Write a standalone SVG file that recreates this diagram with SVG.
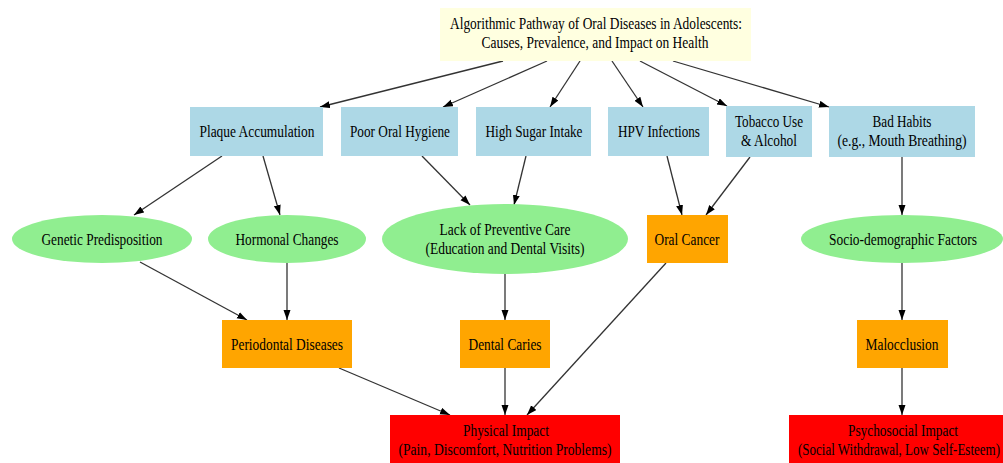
<svg xmlns="http://www.w3.org/2000/svg" width="1003" height="463" viewBox="0 0 1003 463">
<style>
text{font-family:"Liberation Serif","Times New Roman",serif;font-size:16px;fill:#000;text-anchor:middle}
.t{fill:#ffffe0}
.b{fill:#add8e6}
.g{fill:#90ee90}
.o{fill:#ffa500}
.r{fill:#ff0000}
.e line{stroke:#333;stroke-width:1.3;marker-end:url(#ah)}
</style>
<defs>
<marker id="ah" markerUnits="userSpaceOnUse" markerWidth="11" markerHeight="8" refX="10" refY="3.5" orient="auto">
<path d="M0,0 L10,3.5 L0,7 z" fill="#000"/>
</marker>
</defs>
<rect width="1003" height="463" fill="#fff"/>
<g class="e" id="connectors">
<line x1="503" y1="61" x2="320" y2="107"/>
<line x1="547" y1="61" x2="443" y2="107"/>
<line x1="580" y1="61" x2="550" y2="107"/>
<line x1="612" y1="61" x2="643" y2="107"/>
<line x1="640" y1="61" x2="727" y2="106"/>
<line x1="673" y1="61" x2="829" y2="107"/>
<line x1="222" y1="156" x2="134" y2="215"/>
<line x1="263" y1="156" x2="280" y2="215"/>
<line x1="422" y1="156" x2="470" y2="205"/>
<line x1="526" y1="156" x2="514" y2="205"/>
<line x1="667" y1="156" x2="682" y2="215"/>
<line x1="750" y1="157" x2="706" y2="215"/>
<line x1="902" y1="157" x2="902" y2="215"/>
<line x1="140" y1="262" x2="247" y2="320"/>
<line x1="287" y1="263" x2="287" y2="320"/>
<line x1="505" y1="274" x2="505" y2="320"/>
<line x1="666" y1="263" x2="527" y2="415"/>
<line x1="902" y1="263" x2="902" y2="320"/>
<line x1="339" y1="368" x2="450" y2="415"/>
<line x1="505" y1="368" x2="505" y2="415"/>
<line x1="902" y1="368" x2="902" y2="415"/>
</g>
<g id="title"><rect class="t" x="440" y="8" width="311" height="53"/>
<text x="596" y="29" textLength="292" lengthAdjust="spacingAndGlyphs">Algorithmic Pathway of Oral Diseases in Adolescents:</text>
<text x="595" y="48" textLength="227" lengthAdjust="spacingAndGlyphs">Causes, Prevalence, and Impact on Health</text></g>
<g id="plaque"><rect class="b" x="190" y="107" width="133" height="49"/>
<text x="257" y="137" textLength="115" lengthAdjust="spacingAndGlyphs">Plaque Accumulation</text></g>
<g id="hygiene"><rect class="b" x="341" y="107" width="117" height="49"/>
<text x="400" y="137" textLength="100" lengthAdjust="spacingAndGlyphs">Poor Oral Hygiene</text></g>
<g id="sugar"><rect class="b" x="476" y="107" width="115" height="49"/>
<text x="534" y="137" textLength="97" lengthAdjust="spacingAndGlyphs">High Sugar Intake</text></g>
<g id="hpv"><rect class="b" x="608" y="107" width="101" height="49"/>
<text x="659" y="137" textLength="82" lengthAdjust="spacingAndGlyphs">HPV Infections</text></g>
<g id="tobacco"><rect class="b" x="726" y="106" width="86" height="51"/>
<text x="769" y="127" textLength="68" lengthAdjust="spacingAndGlyphs">Tobacco Use</text>
<text x="769" y="146" textLength="56" lengthAdjust="spacingAndGlyphs">&amp; Alcohol</text></g>
<g id="habits"><rect class="b" x="829" y="106" width="146" height="51"/>
<text x="902" y="127" textLength="59" lengthAdjust="spacingAndGlyphs">Bad Habits</text>
<text x="902" y="146" textLength="129" lengthAdjust="spacingAndGlyphs">(e.g., Mouth Breathing)</text></g>
<g id="genetic"><ellipse class="g" cx="102" cy="239" rx="90" ry="24"/>
<text x="102" y="245" textLength="121" lengthAdjust="spacingAndGlyphs">Genetic Predisposition</text></g>
<g id="hormonal"><ellipse class="g" cx="287" cy="239" rx="79" ry="24"/>
<text x="287" y="245" textLength="103" lengthAdjust="spacingAndGlyphs">Hormonal Changes</text></g>
<g id="preventive"><ellipse class="g" cx="505" cy="239" rx="123" ry="35"/>
<text x="505" y="235" textLength="131" lengthAdjust="spacingAndGlyphs">Lack of Preventive Care</text>
<text x="505" y="254" textLength="159" lengthAdjust="spacingAndGlyphs">(Education and Dental Visits)</text></g>
<g id="oralcancer"><rect class="o" x="647" y="215" width="81" height="48"/>
<text x="687" y="245" textLength="65" lengthAdjust="spacingAndGlyphs">Oral Cancer</text></g>
<g id="socio"><ellipse class="g" cx="902" cy="239" rx="101" ry="24"/>
<text x="903" y="245" textLength="148" lengthAdjust="spacingAndGlyphs">Socio-demographic Factors</text></g>
<g id="periodontal"><rect class="o" x="222" y="320" width="130" height="48"/>
<text x="287" y="350" textLength="112" lengthAdjust="spacingAndGlyphs">Periodontal Diseases</text></g>
<g id="caries"><rect class="o" x="460" y="320" width="90" height="48"/>
<text x="505" y="350" textLength="73" lengthAdjust="spacingAndGlyphs">Dental Caries</text></g>
<g id="malocclusion"><rect class="o" x="857" y="320" width="91" height="48"/>
<text x="902" y="350" textLength="73" lengthAdjust="spacingAndGlyphs">Malocclusion</text></g>
<g id="physical"><rect class="r" x="390" y="415" width="230" height="50"/>
<text x="506" y="436" textLength="86" lengthAdjust="spacingAndGlyphs">Physical Impact</text>
<text x="505" y="455" textLength="213" lengthAdjust="spacingAndGlyphs">(Pain, Discomfort, Nutrition Problems)</text></g>
<g id="psychosocial"><rect class="r" x="789" y="415" width="214" height="50"/>
<text x="903" y="436" textLength="110" lengthAdjust="spacingAndGlyphs">Psychosocial Impact</text>
<text x="899" y="455" textLength="202" lengthAdjust="spacingAndGlyphs">(Social Withdrawal, Low Self-Esteem)</text></g>
</svg>
